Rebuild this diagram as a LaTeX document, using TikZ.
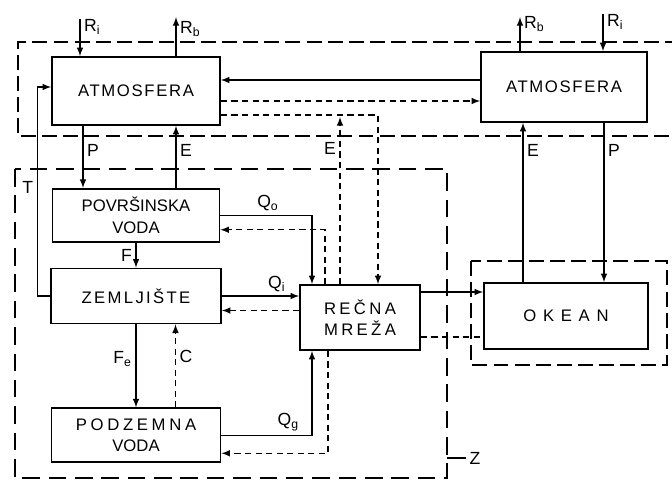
\documentclass[tikz,border=0pt]{standalone}
\usepackage{fontspec}
\setmainfont{Liberation Sans}
\usetikzlibrary{arrows,positioning}

\begin{document}
\begin{tikzpicture}[
    >=latex,
    block/.style={rectangle, draw, line width=1pt, minimum width=3.36cm, minimum height=1.1cm, align=center, inner sep=1pt, font=\fontsize{9.5}{12}\selectfont},
    arrow/.style={->, line width=0.7pt},
    darrow/.style={->, line width=0.7pt, dash pattern=on 3.5pt off 2.5pt},
    dline/.style={line width=0.7pt, dash pattern=on 3.5pt off 2.5pt},
    region/.style={line width=0.9pt, dash pattern=on 8.5pt off 3.5pt},
    lbl/.style={inner sep=2pt, font=\fontsize{10}{12}\selectfont}
]
\useasboundingbox (0,0) rectangle (13.44,-9.72);

% reservoirs
\node[block, minimum height=1.36cm] (atmL) at (2.72,-1.82) {\addfontfeature{LetterSpace=10}ATMOSFERA};
\node[block, minimum width=3.32cm, minimum height=1.4cm] (atmR) at (11.28,-1.74) {\addfontfeature{LetterSpace=10}ATMOSFERA};
\node[block, minimum width=3.34cm, minimum height=1.06cm, below=1.24cm of atmL] (pov) {POVRŠINSKA\\VODA};
\node[block, minimum width=3.4cm, below=0.5cm of pov] (zem) {\addfontfeature{LetterSpace=14}ZEMLJIŠTE};
\node[block, minimum width=3.38cm, minimum height=1.08cm, below=1.66cm of zem] (pod) {\addfontfeature{LetterSpace=22}PODZEMNA\\VODA};
\node[block, minimum width=2.4cm, minimum height=1.3cm, align=left] (rec) at (7.2,-6.35) {\addfontfeature{LetterSpace=20}REČNA\\\addfontfeature{LetterSpace=20}MREŽA};
\node[block, minimum width=3.28cm, minimum height=1.32cm] (oke) at (11.32,-6.32) {\addfontfeature{LetterSpace=40}OKEAN};

% regions
\draw[region] (13.6,-0.84) -- (0.36,-0.84) -- (0.36,-2.72) -- (13.6,-2.72);
\coordinate (landNW) at (0.3,-3.38);
\coordinate (landSE) at (8.94,-9.56);
\draw[region, line width=1.2pt, dash pattern=on 10pt off 5pt] (landNW) rectangle (landSE);
\draw[region] (9.42,-5.22) rectangle (13.34,-7.3);
\node[lbl] (zlab) at (9.5,-9.16) {Z};
\draw[line width=0.7pt] (zlab.west) -- (zlab.west -| landSE);

% radiation
\draw[<-, line width=0.7pt] ([xshift=-1.12cm]atmL.north) -- ++(0,0.74) node[lbl, pos=0.78, right]{R\textsubscript{i}};
\draw[arrow] ([xshift=0.8cm]atmL.north) -- ++(0,0.78) node[lbl, pos=0.7, right]{R\textsubscript{b}};
\draw[arrow] ([xshift=-0.88cm]atmR.north) -- ++(0,0.68) node[lbl, pos=0.8, right]{R\textsubscript{b}};
\draw[<-, line width=0.7pt] ([xshift=0.78cm]atmR.north) -- ++(0,0.74) node[lbl, pos=0.8, right]{R\textsubscript{i}};

% atmosphere exchange
\draw[arrow] ([yshift=0.14cm]atmR.west) -- ([yshift=0.14cm]atmR.west -| atmL.east);
\draw[darrow] ([yshift=-0.2cm]atmL.east) -- ([yshift=-0.2cm]atmL.east -| atmR.west);
\draw[darrow] ([yshift=-0.48cm]atmL.east) -| ([xshift=0.36cm]rec.north);
\draw[darrow] ([xshift=-0.4cm]rec.north) -- ++(0,3.34) node[lbl, pos=0.81, left]{E};

% land
\draw[arrow] ([xshift=-1.06cm]atmL.south) -- ([xshift=-1.06cm]atmL.south |- pov.north) node[lbl, pos=0.4, right]{P};
\draw[arrow] ([xshift=0.8cm]pov.north) -- ([xshift=0.8cm]pov.north |- atmL.south) node[lbl, pos=0.6, right]{E};
\draw[arrow] (zem.west) -- ++(-0.26,0) |- ([yshift=0.08cm]atmL.west) node[lbl, pos=0.26, left]{T};
\draw[arrow] (pov.south) -- (pov.south |- zem.north) node[lbl, midway, left]{F};
\draw[arrow] (zem.south) -- (zem.south |- pod.north) node[lbl, pos=0.42, left]{F\textsubscript{e}};
\draw[darrow] ([xshift=0.79cm]pod.north) -- ([xshift=0.79cm]pod.north |- zem.south) node[lbl, pos=0.61, right]{C};

% runoff
\draw[arrow] (pov.east) -| ([xshift=-0.96cm]rec.north) node[lbl, pos=0.26, above]{Q\textsubscript{o}};
\draw[darrow] ([xshift=-0.7cm]rec.north) |- ([yshift=-0.29cm]pov.east);
\draw[arrow] (zem.east) -- (zem.east -| rec.west) node[lbl, pos=0.71, above]{Q\textsubscript{i}};
\draw[darrow] ([yshift=-0.29cm]zem.east -| rec.west) -- ([yshift=-0.29cm]zem.east);
\draw[arrow] (pod.east) -| ([xshift=-0.96cm]rec.south) node[lbl, pos=0.37, above]{Q\textsubscript{g}};
\draw[darrow] ([xshift=-0.64cm]rec.south) |- ([yshift=-0.36cm]pod.east);

% ocean
\draw[arrow] ([yshift=0.51cm]rec.east) -- ([yshift=0.51cm]rec.east -| oke.west);
\draw[dline] ([yshift=-0.39cm]rec.east) -- ([yshift=-0.39cm]rec.east -| oke.west);
\draw[arrow] ([xshift=-0.86cm]oke.north) -- ([xshift=-0.86cm]oke.north |- atmR.south) node[lbl, pos=0.83, right]{E};
\draw[arrow] ([xshift=0.8cm]atmR.south) -- ([xshift=0.8cm]atmR.south |- oke.north) node[lbl, pos=0.17, right]{P};

\end{tikzpicture}
\end{document}
